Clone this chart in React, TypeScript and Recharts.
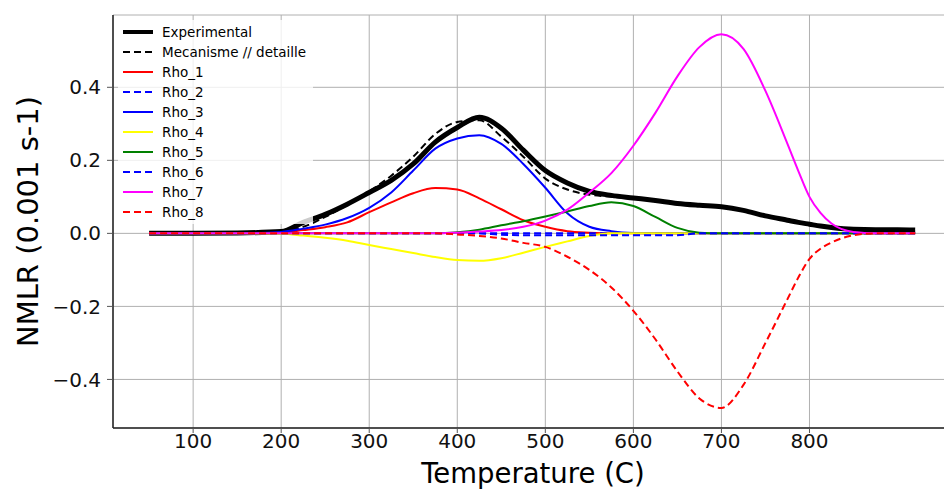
import React from 'react';
import { LineChart, Line, XAxis, YAxis, CartesianGrid } from 'recharts';

// temperature grid (C)
const temps = [50, 100, 150, 200, 225, 250, 275, 300, 325, 350, 375, 400, 425, 450, 475, 500, 525, 550, 575, 600, 625, 650, 675, 700, 725, 750, 775, 787.5, 800, 812.5, 825, 850, 875, 900, 920];

const experimental = [0, 0, 0.001, 0.005, 0.03, 0.052, 0.08, 0.112, 0.145, 0.19, 0.25, 0.29, 0.318, 0.288, 0.228, 0.172, 0.138, 0.115, 0.104, 0.097, 0.09, 0.082, 0.077, 0.073, 0.063, 0.048, 0.036, 0.03, 0.025, 0.02, 0.016, 0.011, 0.01, 0.01, 0.009];
const mecanisme = [0, 0, 0.001, 0.006, 0.018, 0.045, 0.078, 0.115, 0.158, 0.21, 0.272, 0.305, 0.31, 0.265, 0.21, 0.15, 0.12, 0.106, 0.1, 0.095, 0.088, 0.081, 0.076, 0.072, 0.062, 0.047, 0.035, 0.029, 0.024, 0.019, 0.015, 0.009, 0.007, 0.006, 0.005];
const rho1 = [0, 0, 0, 0.002, 0.009, 0.017, 0.03, 0.058, 0.085, 0.11, 0.124, 0.12, 0.096, 0.066, 0.036, 0.018, 0.006, 0.002, 0, 0, 0, 0, 0, 0, 0, 0, 0, 0, 0, 0, 0, 0, 0, 0, 0];
const rho2 = [0, 0, 0, 0, 0, 0, 0, 0, 0, 0, 0, 0, 0, 0, 0, 0, 0, 0, 0, 0, 0, 0, 0, 0, 0, 0, 0, 0, 0, 0, 0, 0, 0, 0, 0];
const rho3 = [0, 0, 0, 0.004, 0.013, 0.024, 0.042, 0.07, 0.112, 0.172, 0.232, 0.26, 0.269, 0.245, 0.19, 0.125, 0.055, 0.018, 0.006, 0.001, 0, 0, 0, 0, 0, 0, 0, 0, 0, 0, 0, 0, 0, 0, 0];
const rho4 = [0, 0, 0, -0.001, -0.006, -0.012, -0.02, -0.032, -0.043, -0.054, -0.065, -0.073, -0.075, -0.068, -0.053, -0.037, -0.022, -0.007, 0, 0, 0, 0, 0, 0, 0, 0, 0, 0, 0, 0, 0, 0, 0, 0, 0];
const rho5 = [0, 0, 0, 0, 0, 0, 0, 0, 0, 0, 0, 0.003, 0.01, 0.022, 0.033, 0.046, 0.06, 0.075, 0.085, 0.075, 0.045, 0.015, 0.002, 0, 0, 0, 0, 0, 0, 0, 0, 0, 0, 0, 0];
const rho6 = [0, 0, 0, 0, 0, 0, 0, 0, 0, 0, 0, 0, 0, -0.004, -0.005, -0.005, -0.005, -0.005, -0.005, -0.005, -0.005, -0.005, 0, 0, 0, 0, 0, 0, 0, 0, 0, 0, 0, 0, 0];
const rho7 = [0, 0, 0, 0, 0, 0, 0, 0, 0, 0, 0, 0.002, 0.005, 0.009, 0.018, 0.035, 0.065, 0.112, 0.165, 0.24, 0.33, 0.43, 0.51, 0.545, 0.505, 0.39, 0.245, 0.17, 0.1, 0.056, 0.027, 0.004, 0, 0, 0];
const rho8 = [0, 0, 0, 0, 0, 0, 0, 0, 0, 0, 0, -0.003, -0.007, -0.014, -0.026, -0.037, -0.064, -0.1, -0.148, -0.212, -0.29, -0.378, -0.452, -0.478, -0.415, -0.3, -0.18, -0.12, -0.07, -0.042, -0.025, -0.005, 0, 0, 0];

const xTicks = [100, 200, 300, 400, 500, 600, 700, 800];
const yTicks = [-0.4, -0.2, 0, 0.2, 0.4];

const series = [
  { key: 'exp', name: 'Experimental', values: experimental, color: '#000000', width: 5, dash: undefined },
  { key: 'mec', name: 'Mecanisme // detaille', values: mecanisme, color: '#000000', width: 2, dash: '7 4' },
  { key: 'rho1', name: 'Rho_1', values: rho1, color: '#ff0000', width: 2, dash: undefined },
  { key: 'rho2', name: 'Rho_2', values: rho2, color: '#0000ff', width: 2, dash: '7 4' },
  { key: 'rho3', name: 'Rho_3', values: rho3, color: '#0000ff', width: 2, dash: undefined },
  { key: 'rho4', name: 'Rho_4', values: rho4, color: '#ffff00', width: 2, dash: undefined },
  { key: 'rho5', name: 'Rho_5', values: rho5, color: '#008000', width: 2, dash: undefined },
  { key: 'rho6', name: 'Rho_6', values: rho6, color: '#0000ff', width: 2, dash: '7 4' },
  { key: 'rho7', name: 'Rho_7', values: rho7, color: '#ff00ff', width: 2, dash: undefined },
  { key: 'rho8', name: 'Rho_8', values: rho8, color: '#ff0000', width: 2, dash: '7 4' },
];

const rows = temps.map((T, i) => {
  const row: Record<string, number> = { T };
  series.forEach(s => { row[s.key] = s.values[i]; });
  return row;
});

const FONT = '"DejaVu Sans", Verdana, sans-serif';
const fmt = (v: number) => v.toFixed(1).replace('-', '\u2212');

function LegendBox() {
  return (
    <div
      style={{
        position: 'absolute',
        left: 118,
        top: 20,
        width: 195,
        height: 204,
        background: 'rgba(255,255,255,0.8)',
        fontFamily: FONT,
        fontSize: 13.5,
        color: '#000',
      }}
    >
      {series.map((s, i) => (
        <div key={s.key} style={{ position: 'absolute', left: 5, top: 2 + i * 20, height: 20, display: 'flex', alignItems: 'center' }}>
          <svg width={30} height={20} style={{ display: 'block' }}>
            <line x1={0} x2={30} y1={10} y2={10} stroke={s.color} strokeWidth={s.key === 'exp' ? 4 : 2} strokeDasharray={s.dash} />
          </svg>
          <span style={{ marginLeft: 9, whiteSpace: 'nowrap' }}>{s.name}</span>
        </div>
      ))}
    </div>
  );
}

export default function App() {
  return (
    <div style={{ position: 'absolute', left: 0, top: 0, width: 944, height: 489, overflow: 'hidden', background: '#fff' }}>
      <LineChart width={1000} height={500} data={rows} margin={{ top: 15, right: 47, left: 13, bottom: 12 }} style={{ fontFamily: FONT }}>
        <CartesianGrid stroke="#b0b0b0" strokeWidth={1} />
        <XAxis
          dataKey="T"
          type="number"
          domain={[9, 963]}
          allowDataOverflow
          ticks={xTicks}
          interval={0}
          height={60}
          tickSize={5}
          tickMargin={1}
          tick={{ fontSize: 20, fill: '#111', fontFamily: FONT }}
          tickLine={{ stroke: '#555' }}
          axisLine={{ stroke: '#222', strokeWidth: 1.5 }}
          label={{ value: 'Temperature (C)', position: 'insideBottom', offset: 5, fontSize: 27.5, fill: '#000', fontFamily: FONT }}
        />
        <XAxis xAxisId="top" orientation="top" type="number" domain={[9, 963]} height={0} tick={false} tickLine={false} axisLine={{ stroke: '#222', strokeWidth: 1.5 }} />
        <YAxis
          type="number"
          domain={[-0.533, 0.598]}
          allowDataOverflow
          ticks={yTicks}
          interval={0}
          width={100}
          tickSize={6}
          tickMargin={6}
          tickFormatter={fmt}
          tick={{ fontSize: 20, fill: '#111', fontFamily: FONT }}
          tickLine={{ stroke: '#555' }}
          axisLine={{ stroke: '#222', strokeWidth: 1.5 }}
          label={{ value: 'NMLR (0.001 s-1)', angle: -90, position: 'insideLeft', offset: 15, fontSize: 29, fill: '#000', fontFamily: FONT, style: { textAnchor: 'middle' } }}
        />
        {series.map(s => (
          <Line
            key={s.key}
            dataKey={s.key}
            name={s.name}
            type="monotone"
            stroke={s.color}
            strokeWidth={s.width}
            strokeDasharray={s.dash}
            dot={false}
            activeDot={false}
            isAnimationActive={false}
          />
        ))}
      </LineChart>
      <LegendBox />
    </div>
  );
}
